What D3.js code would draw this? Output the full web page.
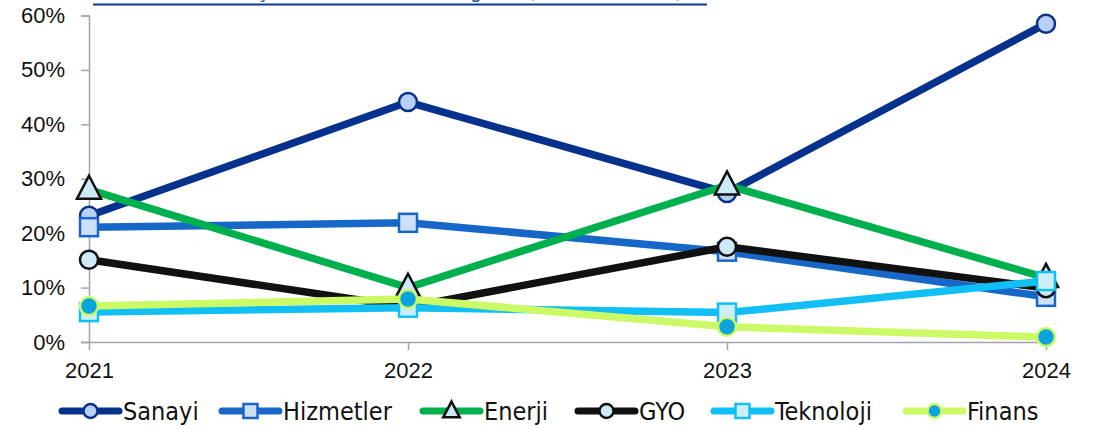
<!DOCTYPE html>
<html><head><meta charset="utf-8">
<script src="https://cdn.jsdelivr.net/npm/d3@7"></script>
<style>
html,body{margin:0;padding:0;background:#fff;}
svg{display:block;font-family:"DejaVu Sans Condensed","DejaVu Sans",sans-serif;}
</style></head>
<body>
<svg id="c" width="1107" height="429"></svg>
<script>
const years = ["2021","2022","2023","2024"];
const yTicks = [0,10,20,30,40,50,60];
const sanayi    = [23.2, 44.1, 27.4, 58.5];
const hizmetler = [21.1, 21.9, 16.6, 8.3];
const enerji    = [28.0, 10.0, 28.8, 11.8];
const gyo       = [15.1, 6.4, 17.5, 9.9];
const teknoloji = [5.5, 6.3, 5.4, 11.2];
const finans    = [6.6, 7.9, 2.8, 0.9];
const seriesNames = ["Sanayi","Hizmetler","Enerji","GYO","Teknoloji","Finans"];
const titleText = "Halka Arz Edilen Şirketlerin Sektörel Dağılımı (Yıllara Göre, %)";

const styles = {
  Sanayi:    {line:"#06318c", shape:"circle",   fill:"#b9cff6", stroke:"#06318c"},
  Hizmetler: {line:"#1767c9", shape:"square",   fill:"#cde0f8", stroke:"#1767c9"},
  Enerji:    {line:"#00b04f", shape:"triangle", fill:"#cdeafb", stroke:"#111111"},
  GYO:       {line:"#111111", shape:"circle",   fill:"#cdeafb", stroke:"#111111"},
  Teknoloji: {line:"#11bff5", shape:"square",   fill:"#cdeffc", stroke:"#11bff5"},
  Finans:    {line:"#ccf966", shape:"circle",   fill:"#0ba3de", stroke:"#ccf966"}
};
const data = [sanayi, hizmetler, enerji, gyo, teknoloji, finans];

const svg = d3.select("#c");
const x = d3.scalePoint().domain(years).range([89, 1046]);
const y = d3.scaleLinear().domain([0, 60]).range([342, 15.5]);
const axisColor = "#a3a3ab";

// title (cut off at the top edge, as in the reference)
svg.append("text").attr("x", 96).attr("y", -2).attr("font-size", 19)
  .attr("fill", "#1f4e9c").attr("font-family", "'DejaVu Sans', sans-serif").text(titleText);
svg.append("line").attr("x1", 93).attr("x2", 707).attr("y1", 4.5).attr("y2", 4.5)
  .attr("stroke", "#0d3a8c").attr("stroke-width", 2);

// y axis
const ya = svg.append("g").attr("transform", "translate(89,0)")
  .call(d3.axisLeft(y).tickValues(yTicks).tickSize(8).tickPadding(16).tickFormat(d => d + "%"));
ya.select(".domain").attr("stroke", axisColor).attr("stroke-width", 1.5);
ya.selectAll(".tick line").attr("stroke", axisColor).attr("stroke-width", 1.5);
ya.selectAll("text").attr("font-size", 22).attr("fill", "#111").attr("font-family", "inherit");

// x axis
const xa = svg.append("g").attr("transform", "translate(0,342)")
  .call(d3.axisBottom(x).tickSize(8).tickPadding(12).tickSizeOuter(0));
xa.select(".domain").attr("stroke", axisColor).attr("stroke-width", 1.5);
xa.selectAll(".tick line").attr("stroke", axisColor).attr("stroke-width", 1.5);
xa.selectAll("text").attr("font-size", 22).attr("fill", "#111").attr("font-family", "inherit");

function marker(g, shape, cx, cy, size, st) {
  if (shape === "circle") {
    g.append("circle").attr("cx", cx).attr("cy", cy).attr("r", size/2)
      .attr("fill", st.fill).attr("stroke", st.stroke).attr("stroke-width", 2.5);
  } else if (shape === "square") {
    g.append("rect").attr("x", cx - size/2).attr("y", cy - size/2).attr("width", size).attr("height", size)
      .attr("fill", st.fill).attr("stroke", st.stroke).attr("stroke-width", 2.5);
  } else {
    const h = size * 1.05, w = size * 1.1;
    g.append("path").attr("d", `M${cx},${cy - h*0.6}L${cx + w/2},${cy + h*0.4}L${cx - w/2},${cy + h*0.4}Z`)
      .attr("fill", st.fill).attr("stroke", st.stroke).attr("stroke-width", 2.5).attr("stroke-linejoin", "miter");
  }
}

const line = d3.line().x((d, i) => x(years[i])).y(d => y(d));
const plot = svg.append("g");
seriesNames.forEach((name, si) => {
  const st = styles[name];
  const g = plot.append("g");
  g.append("path").datum(data[si]).attr("d", line).attr("fill", "none")
    .attr("stroke", st.line).attr("stroke-width", 7.5).attr("stroke-linejoin", "round");
  data[si].forEach((v, i) => marker(g, st.shape, x(years[i]), y(v), st.shape === "triangle" ? 22 : 18, st));
});

// legend
const legX = [62, 222, 423, 578, 714, 906];
const leg = svg.append("g");
seriesNames.forEach((name, i) => {
  const st = styles[name];
  const lx = legX[i], ly = 411;
  leg.append("line").attr("x1", lx).attr("x2", lx + 57).attr("y1", ly).attr("y2", ly)
    .attr("stroke", st.line).attr("stroke-width", 7).attr("stroke-linecap", "round");
  marker(leg, st.shape, lx + 28.5, ly, st.shape === "triangle" ? 15 : 14, st);
  leg.append("text").attr("x", lx + 61).attr("y", ly + 9).attr("font-size", 25).attr("fill", "#111").text(name);
});
</script>
</body></html>
